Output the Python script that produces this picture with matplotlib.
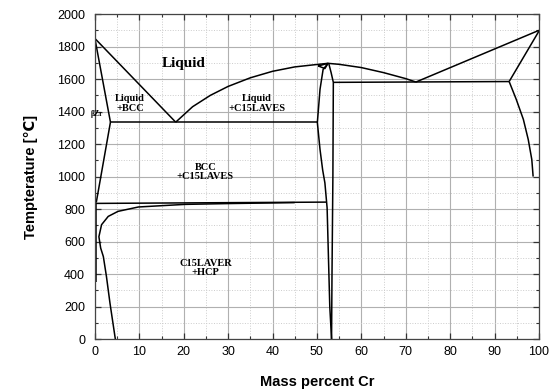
import numpy as np
import matplotlib.pyplot as plt
from matplotlib.ticker import MultipleLocator

# Zr-Cr phase diagram, boundaries as (mass % Cr, temperature in C)
liquidus_zr = [(0, 1850), (18.2, 1335)]
liquidus_laves_left = [(18.2, 1335), (22, 1430), (26, 1500), (30, 1555), (35, 1608),
                       (40, 1648), (45, 1675), (50, 1690), (52.5, 1697)]
liquidus_laves_right = [(52.5, 1697), (55, 1691), (60, 1671), (65, 1640), (70, 1603), (72.3, 1582)]
liquidus_cr = [(72.3, 1582), (100, 1900)]
solidus_bcc_zr = [(0, 1850), (3.5, 1335)]
solvus_bcc_zr = [(3.5, 1335), (0.3, 840)]
hcp_solvus = [(0.3, 840), (0.3, 350)]
eutectic_1335 = [(3.5, 1335), (50.2, 1335)]
eutectoid_840 = [(0.2, 835), (52.2, 843)]
bcc_c15_lower = [(45, 840), (30, 834), (20.3, 829), (9.8, 813), (5.2, 786), (3.0, 755),
                 (1.5, 704), (0.9, 630), (1.3, 560), (1.9, 508), (2.6, 385), (3.4, 220), (4.6, 0)]
laves_left = [(52.4, 1693), (51.4, 1660), (50.7, 1537), (50.3, 1400), (50.1, 1333),
              (50.7, 1167), (51.3, 1040), (51.8, 961), (52.3, 807), (52.9, 200), (53.3, 0)]
laves_right = [(52.7, 1693), (53.2, 1640), (53.7, 1580), (53.6, 1000), (53.4, 400), (53.3, 0)]
laves_loop = [(50.3, 1681), (52.5, 1697), (51.8, 1665), (50.3, 1681)]
peritectic_1580 = [(53.7, 1580), (93.3, 1585)]
solidus_cr = [(100, 1895), (93.3, 1585)]
solvus_cr = [(93.3, 1585), (94.9, 1475), (96.5, 1352), (97.6, 1228), (98.4, 1105), (98.7, 1000)]

boundaries = [liquidus_zr, liquidus_laves_left, liquidus_laves_right, liquidus_cr,
              solidus_bcc_zr, solvus_bcc_zr, hcp_solvus, eutectic_1335, eutectoid_840,
              bcc_c15_lower, laves_left, laves_right, laves_loop, peritectic_1580,
              solidus_cr, solvus_cr]

# region labels: text, x, T, size
region_labels = [("Liquid", 19.9, 1696, 11),
                 ("Liquid\n+BCC", 7.9, 1450, 7.5),
                 ("Liquid\n+C15LAVES", 36.4, 1450, 7.5),
                 ("BCC\n+C15LAVES", 24.9, 1030, 7.5),
                 ("C15LAVER\n+HCP", 24.9, 438, 7.5)]

fig = plt.figure(figsize=(5.55, 3.92), dpi=100)
ax = fig.add_axes([0.171, 0.135, 0.8, 0.829])

for b in boundaries:
    pts = np.array(b)
    ax.plot(pts[:, 0], pts[:, 1], color='black', lw=1.1, solid_capstyle='butt')

for txt, x, t, fs in region_labels:
    ax.text(x, t, txt, ha='center', va='center', fontsize=fs, fontweight='bold',
            family='Liberation Serif', linespacing=1.05)
ax.text(0.4, 1385, "βZr", ha='center', va='center', fontsize=5.5,
        family='Liberation Serif', fontweight='bold', clip_on=False)

ax.set_xlim(0, 100)
ax.set_ylim(0, 2000)
ax.xaxis.set_major_locator(MultipleLocator(10))
ax.xaxis.set_minor_locator(MultipleLocator(5))
ax.yaxis.set_major_locator(MultipleLocator(200))
ax.yaxis.set_minor_locator(MultipleLocator(100))
ax.grid(which='major', color='#b0b0b0', lw=0.8, ls='-')
ax.grid(which='minor', color='#cccccc', lw=0.7, ls=':')
ax.set_axisbelow(True)
ax.tick_params(which='both', direction='in', top=True, right=True,
               labelsize=9, colors='#333333', labelcolor='black')
ax.tick_params(which='major', length=4, width=0.9)
ax.tick_params(axis='y', which='major', pad=7)
ax.tick_params(axis='x', which='major', pad=5)
ax.tick_params(which='minor', length=2.5, width=0.8)
for s in ax.spines.values():
    s.set_color('#444444')
    s.set_linewidth(0.9)
for lab in ax.get_xticklabels() + ax.get_yticklabels():
    lab.set_family('Liberation Sans')

ax.set_xlabel("Mass percent Cr", fontsize=10.5, fontweight='bold',
              family=['Liberation Sans', 'DejaVu Sans'], labelpad=12)
ax.set_ylabel("Tempterature [℃]", fontsize=10.5, fontweight='bold',
              family=['Liberation Sans', 'DejaVu Sans'], labelpad=14)

fig.savefig("out.png", dpi=100)
